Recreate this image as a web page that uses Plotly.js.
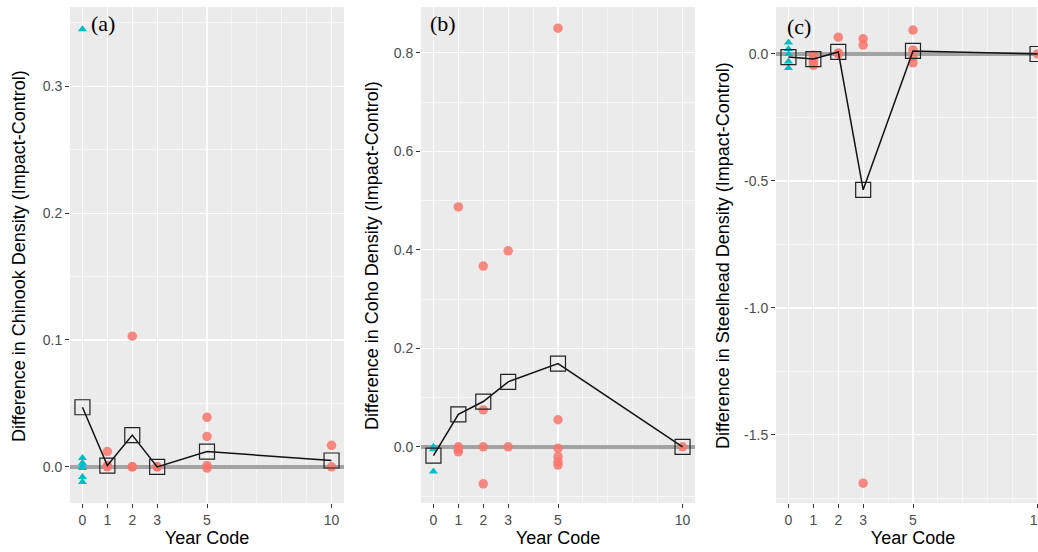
<!DOCTYPE html>
<html><head><meta charset="utf-8">
<script src="https://cdn.plot.ly/plotly-3.0.1.min.js"></script>
<style>html,body{margin:0;padding:0;background:#fff;overflow:hidden;width:1038px;height:552px}#chart{width:1062px;height:552px}</style>
</head><body><div id="chart"></div><script>
// ---- data ----
const yearTicks = [0, 1, 2, 3, 5, 10];
const yearTickText = ['0', '1', '2', '3', '5', '10'];

const chinookTicks = [0, 0.1, 0.2, 0.3];
const chinookTickText = ['0.0', '0.1', '0.2', '0.3'];
const chinookPreX = [0, 0, 0, 0, 0, 0, 0];
const chinookPreY = [0.345, 0.007, 0.003, 0.0, -0.001, -0.008, -0.012];
const chinookPostX = [1, 1, 1, 2, 2, 2, 3, 3, 5, 5, 5, 5, 10, 10];
const chinookPostY = [0.012, 0.001, 0.0, 0.103, 0.0, 0.0, 0.0, 0.0, 0.039, 0.024, 0.001, -0.001, 0.017, 0.0];
const chinookMeanX = [0, 1, 2, 3, 5, 10];
const chinookMeanY = [0.047, 0.001, 0.025, 0.0, 0.012, 0.005];

const cohoTicks = [0, 0.2, 0.4, 0.6, 0.8];
const cohoTickText = ['0.0', '0.2', '0.4', '0.6', '0.8'];
const cohoPreX = [0, 0, 0];
const cohoPreY = [0.0, -0.005, -0.05];
const cohoPostX = [1, 1, 1, 1, 2, 2, 2, 2, 3, 3, 5, 5, 5, 5, 5, 5, 10];
const cohoPostY = [0.487, 0.0, -0.005, -0.01, 0.367, 0.075, 0.0, -0.075, 0.398, 0.0, 0.85, 0.055, -0.003, -0.02, -0.03, -0.037, 0.0];
const cohoMeanX = [0, 1, 2, 3, 5, 10];
const cohoMeanY = [-0.018, 0.066, 0.092, 0.132, 0.169, 0.0];

const steelTicks = [0, -0.5, -1.0, -1.5];
const steelTickText = ['0.0', '-0.5', '-1.0', '-1.5'];
const steelPreX = [0, 0, 0, 0, 0];
const steelPreY = [0.045, 0.02, 0.0, -0.03, -0.055];
const steelPostX = [1, 1, 1, 1, 2, 2, 2, 3, 3, 3, 5, 5, 5, 5, 10];
const steelPostY = [-0.005, -0.02, -0.035, -0.045, 0.066, 0.004, 0.0, 0.06, 0.035, -1.69, 0.094, 0.016, -0.012, -0.035, 0.0];
const steelMeanX = [0, 1, 2, 3, 5, 10];
const steelMeanY = [-0.012, -0.02, 0.008, -0.535, 0.012, 0.0];

const yTitles = ['Difference in Chinook Density (Impact-Control)',
                 'Difference in Coho Density (Impact-Control)',
                 'Difference in Steelhead Density (Impact-Control)'];
const panelLabels = ['(a)', '(b)', '(c)'];

// ---- styling ----
const W = 1062, H = 552;
const RED = '#F8766D', TEAL = '#00BFC4';
const fontFam = '"Liberation Sans", Arial, sans-serif';

function pointTraces(px, py, qx, qy, mx, my, xa, ya) {
  return [
    {x: qx, y: qy, xaxis: xa, yaxis: ya, type: 'scatter', mode: 'markers',
     marker: {symbol: 'circle', size: 9.5, color: RED, opacity: 0.85}, showlegend: false},
    {x: px, y: py, xaxis: xa, yaxis: ya, type: 'scatter', mode: 'markers',
     marker: {symbol: 'triangle-up', size: 8, color: TEAL}, showlegend: false},
    {x: mx, y: my, xaxis: xa, yaxis: ya, type: 'scatter', mode: 'lines+markers',
     line: {color: '#111', width: 1.5},
     marker: {symbol: 'square', size: 15, color: 'rgba(0,0,0,0)', line: {color: '#222', width: 1.2}},
     showlegend: false}
  ];
}

const data = [].concat(
  pointTraces(chinookPreX, chinookPreY, chinookPostX, chinookPostY, chinookMeanX, chinookMeanY, 'x', 'y'),
  pointTraces(cohoPreX, cohoPreY, cohoPostX, cohoPostY, cohoMeanX, cohoMeanY, 'x2', 'y2'),
  pointTraces(steelPreX, steelPreY, steelPostX, steelPostY, steelMeanX, steelMeanY, 'x3', 'y3')
);

const yDom = [(H - 503) / H, (H - 7) / H];

function xAxis(l, r, range, anchor) {
  return {
    domain: [l / W, r / W], range: range, anchor: anchor,
    tickmode: 'array', tickvals: yearTicks, ticktext: yearTickText,
    ticks: 'outside', ticklen: 4, tickwidth: 1, tickcolor: '#333',
    tickfont: {family: fontFam, size: 14, color: '#4D4D4D'},
    showgrid: true, gridcolor: '#FFFFFF', gridwidth: 1.1,
    minor: {tickmode: 'linear', tick0: 0, dtick: 1, showgrid: true, gridcolor: '#FFFFFF', gridwidth: 0.6, ticks: ''},
    zeroline: false, showline: false, fixedrange: true,
    title: {text: 'Year Code', font: {family: fontFam, size: 18, color: '#000'}, standoff: 4}
  };
}
function yAxis(range, vals, txt, minorStep, anchor) {
  return {
    domain: yDom, range: range, anchor: anchor,
    tickmode: 'array', tickvals: vals, ticktext: txt,
    ticks: 'outside', ticklen: 4, tickwidth: 1, tickcolor: '#333',
    tickfont: {family: fontFam, size: 14, color: '#4D4D4D'},
    showgrid: true, gridcolor: '#FFFFFF', gridwidth: 1.1,
    minor: {tickmode: 'linear', tick0: 0, dtick: minorStep, showgrid: true, gridcolor: '#FFFFFF', gridwidth: 0.6, ticks: ''},
    zeroline: true, zerolinecolor: '#A3A3A3', zerolinewidth: 3.4,
    showline: false, fixedrange: true
  };
}

const yTitleX = [19, 372, 723];
const labelPos = [[103, 24], [443, 24], [799, 27]];

const annotations = [];
yTitles.forEach((t, i) => annotations.push({
  text: t, xref: 'paper', yref: 'paper', x: yTitleX[i] / W, y: 1 - 256 / H,
  xanchor: 'center', yanchor: 'middle', textangle: -90, showarrow: false,
  font: {family: fontFam, size: 18, color: '#000'}
}));
panelLabels.forEach((t, i) => annotations.push({
  text: t, xref: 'paper', yref: 'paper', x: labelPos[i][0] / W, y: 1 - labelPos[i][1] / H,
  xanchor: 'center', yanchor: 'middle', showarrow: false,
  font: {family: '"Liberation Serif", "Times New Roman", serif', size: 22, color: '#000'}
}));

const layout = {
  width: W, height: H, margin: {l: 0, r: 0, t: 0, b: 0},
  paper_bgcolor: '#FFFFFF', plot_bgcolor: '#EBEBEB',
  showlegend: false,
  xaxis: xAxis(70, 344, [-0.5, 10.5], 'y'),
  xaxis2: xAxis(421, 695, [-0.5, 10.5], 'y2'),
  xaxis3: xAxis(776, 1050, [-0.5, 10.5], 'y3'),
  yaxis: yAxis([-0.0285, 0.3625], chinookTicks, chinookTickText, 0.05, 'x'),
  yaxis2: yAxis([-0.114, 0.893], cohoTicks, cohoTickText, 0.1, 'x2'),
  yaxis3: yAxis([-1.768, 0.185], steelTicks, steelTickText, 0.25, 'x3'),
  annotations: annotations
};

Plotly.newPlot('chart', data, layout, {displayModeBar: false, staticPlot: true});
</script></body></html>
